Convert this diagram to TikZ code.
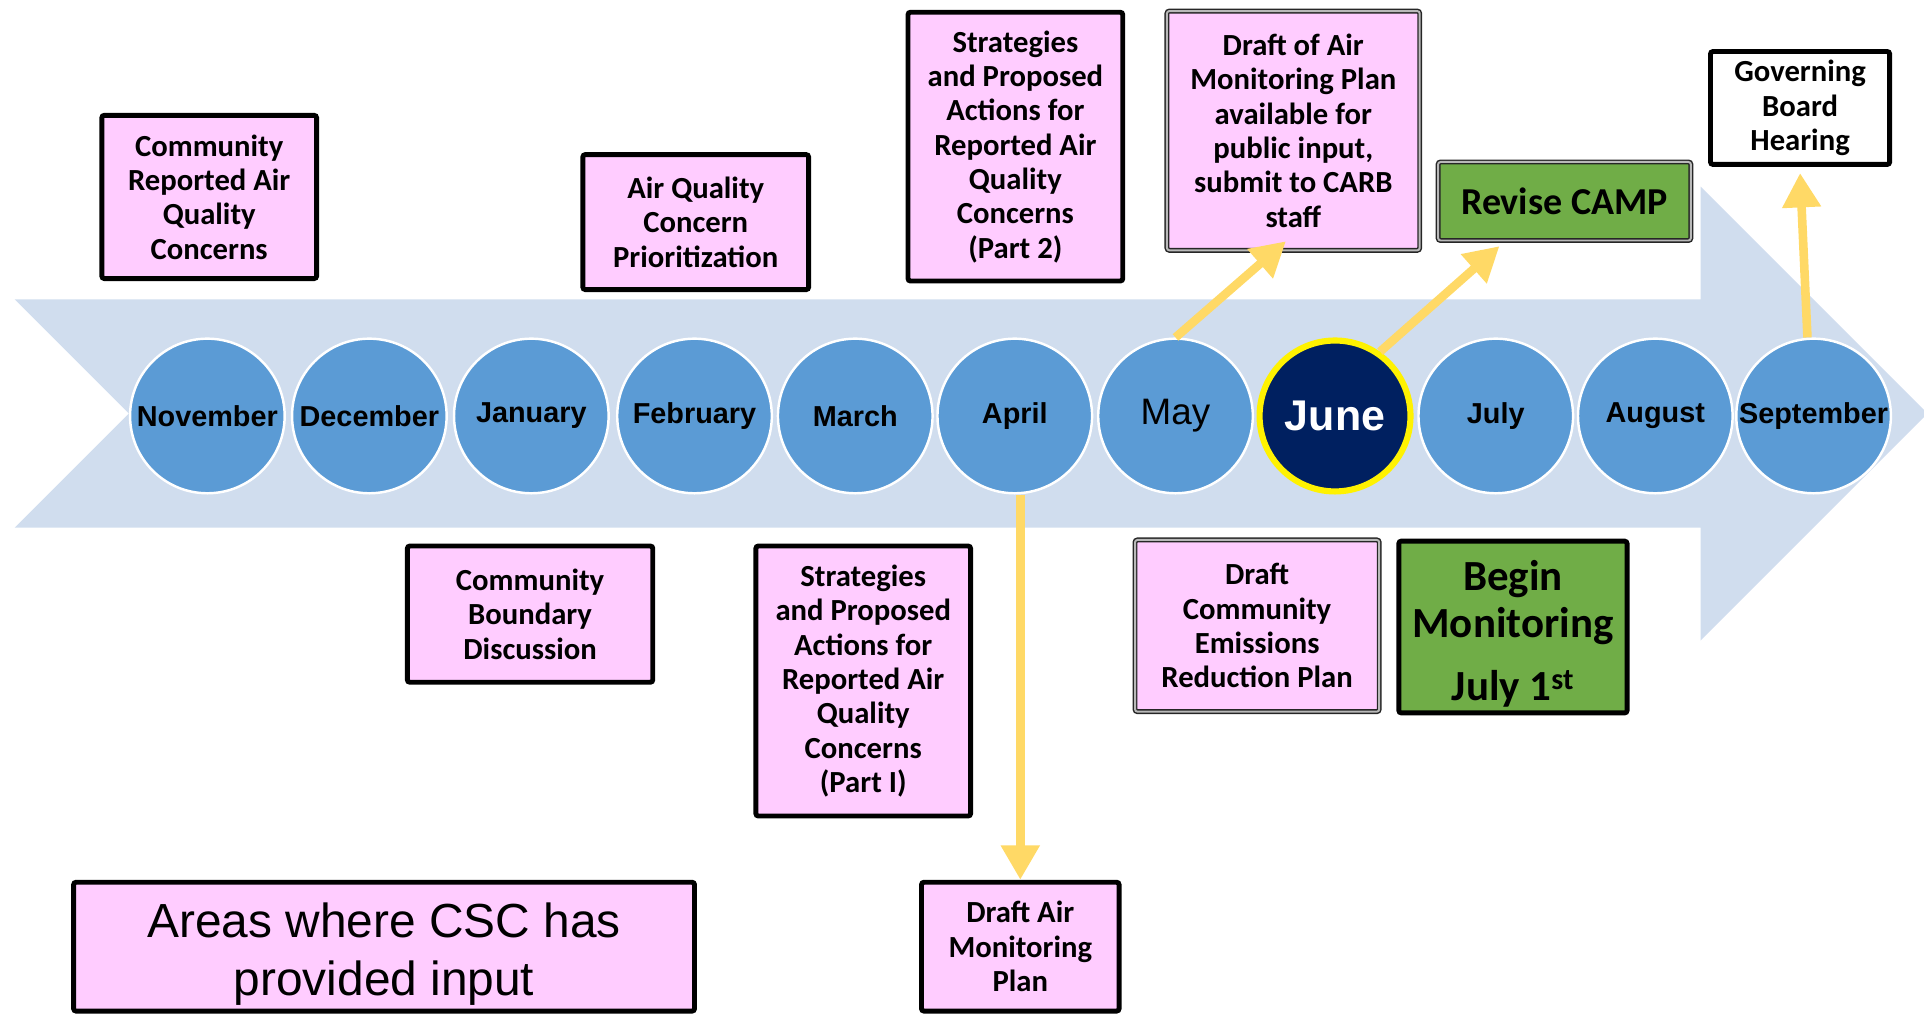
\documentclass[tikz,border=0pt]{standalone}
\usepackage{fontspec}
\setmainfont{Carlito}
\newfontfamily\arialfont{Liberation Sans}
\usetikzlibrary{arrows.meta}
\definecolor{bandblue}{RGB}{208,221,238}
\definecolor{discblue}{RGB}{91,155,213}
\definecolor{junenavy}{RGB}{0,32,96}
\definecolor{notepink}{RGB}{255,204,255}
\definecolor{campgreen}{RGB}{112,173,71}
\definecolor{flowyellow}{RGB}{255,217,102}
\begin{document}
\begin{tikzpicture}[x=1pt,y=1pt,
  disc/.style={circle, draw=white, line width=2pt, fill=discblue, minimum size=126pt, inner sep=0pt, font=\arialfont\bfseries\fontsize{23.5}{27}\selectfont},
  notebox/.style={draw, line width=4pt, rounded corners=2pt, fill=notepink, align=center, inner sep=2pt, font=\bfseries\fontsize{25}{28}\selectfont},
  dblbox/.style={notebox, line width=1.2pt, draw=black!85, double=gray!55, double distance=1.6pt},
  flow/.style={draw=flowyellow, line width=7pt, -{Triangle[length=28pt,width=30pt]}}]
\useasboundingbox (0,0) rectangle (1568,-828);
\fill[bandblue] (12,-244) -- (1386,-244) -- (1386,-152) -- (1571,-337) -- (1386,-522) -- (1386,-430) -- (12,-430) -- (105,-337) -- cycle;

\node[disc] (nov) at (169,-339) {November};
\node[disc] (dec) at (301,-339) {December};
\node[disc] (jan) at (433,-339) {January};
\node[disc] (feb) at (566,-339) {February};
\node[disc] (mar) at (697,-339) {March};
\node[disc] (april) at (827,-339) {April};
\node[disc, font=\arialfont\fontsize{30}{36}\selectfont] (may) at (958,-339) {May};
\node[disc, fill=junenavy, draw=yellow, line width=5pt, minimum size=123pt, text=white, font=\arialfont\bfseries\fontsize{35}{40}\selectfont] (june) at (1088,-339) {June};
\node[disc] (july) at (1219,-339) {July};
\node[disc] (aug) at (1349,-339) {August};
\node[disc] (sept) at (1478,-339) {September};

\node[notebox, minimum width=175pt, minimum height=133pt] (comrep) at (170.5,-160.5) {Community\\Reported Air\\Quality\\Concerns};
\node[notebox, minimum width=184pt, minimum height=110pt] (prior) at (567,-181) {Air Quality\\Concern\\Prioritization};
\node[notebox, minimum width=175pt, minimum height=219pt] (acttwo) at (827.5,-119.5) {Strategies\\and Proposed\\Actions for\\Reported Air\\Quality\\Concerns\\(Part 2)};
\node[dblbox, minimum width=206pt, minimum height=195pt] (airdraft) at (1054,-106.5) {Draft of Air\\Monitoring Plan\\available for\\public input,\\submit to CARB\\staff};
\node[dblbox, fill=campgreen, minimum width=206pt, minimum height=64pt, font=\bfseries\fontsize{31}{34}\selectfont] (camp) at (1275,-164) {Revise CAMP};
\node[notebox, fill=white, minimum width=146pt, minimum height=92pt] (board) at (1467,-88) {Governing\\Board\\Hearing};
\node[notebox, minimum width=200pt, minimum height=111pt] (bound) at (432,-500.5) {Community\\Boundary\\Discussion};
\node[notebox, minimum width=175pt, minimum height=220pt] (actone) at (703.5,-555) {Strategies\\and Proposed\\Actions for\\Reported Air\\Quality\\Concerns\\(Part I)};
\node[dblbox, minimum width=199pt, minimum height=140pt] (cerp) at (1024.5,-510) {Draft\\Community\\Emissions\\Reduction Plan};
\node[notebox, fill=campgreen, minimum width=186pt, minimum height=140pt, font=\bfseries\fontsize{35}{38}\selectfont] (begin) at (1233,-511) {\rule{0pt}{36pt}Begin\\Monitoring\\[14pt]July 1\textsuperscript{st}};
\node[notebox, minimum width=161pt, minimum height=105pt] (monplan) at (831.5,-771.5) {Draft Air\\Monitoring\\Plan};
\node[notebox, minimum width=506pt, minimum height=105pt, font=\arialfont\fontsize{39}{47}\selectfont] (legend) at (313,-771.5) {\rule{0pt}{40pt}Areas where CSC has\\provided input};

\draw[flow] (april.south -| monplan.north) -- (monplan.north);
\draw[flow] (may.north) -- ([xshift=-6pt,yshift=8pt]airdraft.south);
\draw[flow] (june.55) -- ([xshift=-53pt,yshift=-4pt]camp.south);
\draw[flow] ([xshift=-5pt]sept.north) -- ([yshift=-5pt]board.south);
\end{tikzpicture}
\end{document}
